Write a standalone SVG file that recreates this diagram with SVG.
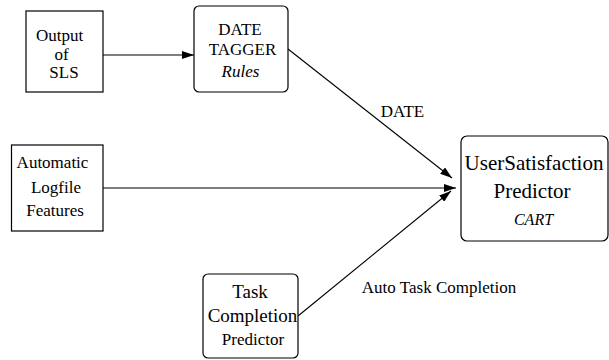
<svg xmlns="http://www.w3.org/2000/svg" width="609" height="360" viewBox="0 0 609 360">
<defs>
<style>
.box{fill:#fff;stroke:#000;stroke-width:1.2}
.t{font-family:'Liberation Serif','Times New Roman','DejaVu Serif',Times,serif;font-size:17px;fill:#000;text-anchor:middle}
.i{font-style:italic}
.big{font-size:21px}
.c{stroke:#000;stroke-width:1.1;fill:none}
</style>
<marker id="ah" viewBox="0 0 12 8" refX="12" refY="4" markerWidth="12" markerHeight="8" markerUnits="userSpaceOnUse" orient="auto">
<path d="M0,0 L12,4 L0,8 Z" fill="#000"/>
</marker>
</defs>
<rect width="609" height="360" fill="#fff"/>
<g id="connectors">
<line class="c" x1="103" y1="55" x2="194" y2="55" marker-end="url(#ah)"/>
<line class="c" x1="288" y1="49" x2="452" y2="178" marker-end="url(#ah)"/>
<line class="c" x1="103" y1="188" x2="456" y2="188" marker-end="url(#ah)"/>
<line class="c" x1="298" y1="316" x2="451" y2="191" marker-end="url(#ah)"/>
<text class="t" x="402.5" y="117">DATE</text>
<text class="t" x="439" y="293">Auto Task Completion</text>
</g>
<g id="output-sls">
<rect class="box" x="26" y="11" width="77" height="81"/>
<text class="t" x="59.5" y="41">Output</text>
<text class="t" x="61.5" y="60">of</text>
<text class="t" x="64" y="78">SLS</text>
</g>
<g id="date-tagger">
<rect class="box" x="194" y="6" width="94" height="86" rx="5"/>
<text class="t" x="240" y="35">DATE</text>
<text class="t" x="242.5" y="55">TAGGER</text>
<text class="t i" x="240.5" y="77">Rules</text>
</g>
<g id="logfile">
<rect class="box" x="11.5" y="145" width="91.5" height="86"/>
<text class="t" x="52.5" y="168">Automatic</text>
<text class="t" x="56" y="193">Logfile</text>
<text class="t" x="55" y="216">Features</text>
</g>
<g id="task-completion">
<rect class="box" x="203" y="274" width="95" height="84" rx="5"/>
<text class="t" x="250" y="298" style="font-size:19px">Task</text>
<text class="t" x="252.5" y="322" style="font-size:19px">Completion</text>
<text class="t" x="253" y="345">Predictor</text>
</g>
<g id="user-satisfaction">
<rect class="box" x="461" y="136" width="147" height="105" rx="6"/>
<text class="t big" x="534" y="170">UserSatisfaction</text>
<text class="t big" x="532" y="198">Predictor</text>
<text class="t i" x="533.5" y="225" style="font-size:16px">CART</text>
</g>
</svg>
